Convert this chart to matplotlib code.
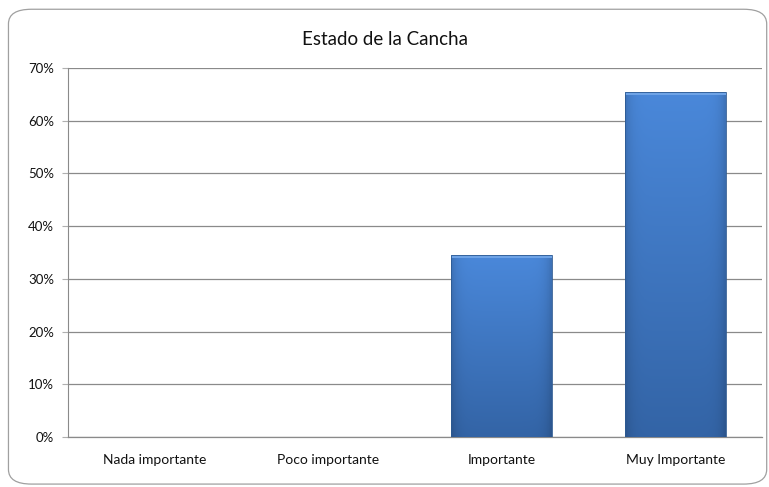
import numpy as np
import matplotlib.pyplot as plt
from matplotlib.patches import FancyBboxPatch
from matplotlib.ticker import PercentFormatter

categorias = ["Nada importante", "Poco importante", "Importante", "Muy Importante"]
porcentajes = [0.0, 0.0, 34.5, 65.5]
ticks_y = [0, 10, 20, 30, 40, 50, 60, 70]

plt.rcParams['font.family'] = ['Lato', 'DejaVu Sans']

fig = plt.figure(figsize=(7.69, 4.87), dpi=100)
fig.patch.set_facecolor('white')

# marco redondeado del grafico
marco = FancyBboxPatch((0.011, 0.006), 0.986, 0.975,
                       boxstyle="round,pad=0,rounding_size=0.03",
                       transform=fig.transFigure, facecolor='none',
                       edgecolor='#a0a0a0', linewidth=0.9, zorder=-1)
fig.add_artist(marco)

ax = fig.add_axes([0.0884, 0.1027, 0.9026, 0.7577])
ax.set_facecolor('none')

x = np.arange(len(categorias))
ancho = 0.58

# gradiente vertical para las barras
grad = np.linspace(0, 1, 256).reshape(-1, 1)
horiz = np.linspace(-1, 1, 64)
top_c = np.array([0x4a, 0x88, 0xda]) / 255
bot_c = np.array([0x33, 0x64, 0xa6]) / 255
img = top_c * (1 - grad[..., None]) + bot_c * grad[..., None]
img = np.repeat(img, 64, axis=1)
borde = 1 - 0.15 * (np.abs(horiz) ** 8)
img = img * borde[None, :, None]

for xi, v in zip(x, porcentajes):
    if v <= 0:
        continue
    barra = ax.bar(xi, v, width=ancho, color='none', edgecolor='#2d5a92',
                   linewidth=0.6, zorder=3)[0]
    im = ax.imshow(img, extent=[xi - ancho / 2, xi + ancho / 2, 0, v],
                   aspect='auto', zorder=2, origin='upper')
    im.set_clip_path(barra)
    # brillo superior
    ax.fill_between([xi - ancho / 2, xi + ancho / 2], v - 0.6, v,
                    color='#6ea3e6', zorder=2.5, linewidth=0)

ax.set_xlim(-0.5, len(categorias) - 0.5)
ax.set_ylim(0, 70)
ax.set_yticks(ticks_y)
ax.yaxis.set_major_formatter(PercentFormatter(decimals=0))
ax.set_xticks(x)
ax.set_xticklabels(categorias, fontsize=10, color='#111111')
ax.tick_params(axis='x', length=0, pad=12)
ax.tick_params(axis='y', length=4, color='#b0b0b0', labelsize=9.5,
               labelcolor='#111111', pad=6)

ax.grid(axis='y', color='#8a8a8a', linewidth=0.9, zorder=1)
ax.axhline(0, color='#8a8a8a', linewidth=0.9, zorder=1, clip_on=False)
ax.set_axisbelow(True)
for s in ['top', 'right', 'bottom']:
    ax.spines[s].set_visible(False)
ax.spines['left'].set_color('#8a8a8a')

fig.text(0.5, 0.918, "Estado de la Cancha", ha='center', va='center',
         fontsize=13.5, color='#111111')

fig.savefig("out.png", dpi=100)
